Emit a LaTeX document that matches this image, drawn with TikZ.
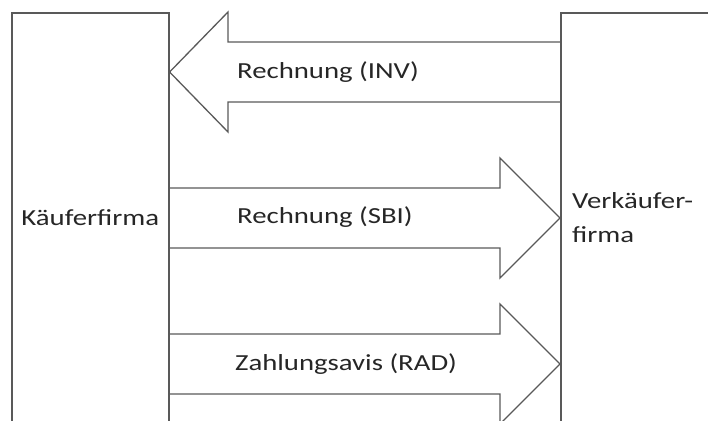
\documentclass[tikz,border=0pt]{standalone}
\usepackage{fontspec}
\setmainfont{Carlito}[FakeStretch=1.25]
\usetikzlibrary{calc, positioning}
\definecolor{linegray}{RGB}{89,89,89}
\definecolor{textgray}{RGB}{38,38,38}
\tikzset{
    firm/.style={rectangle, draw=linegray, line width=1.6pt, anchor=north west, inner sep=0pt, text=textgray, font=\fontsize{23}{28}\selectfont},
    fatarrow/.style={draw=linegray, line width=1.3pt, line join=miter},
    msg/.style={font=\fontsize{23}{28}\selectfont, text=textgray, inner sep=0pt}
}

\begin{document}
\begin{tikzpicture}[x=1pt, y=-1pt]
    \useasboundingbox (0,0) rectangle (708,420);
    \clip (0,0) rectangle (708,420);

    \node[firm, minimum width=157, minimum height=410] (kaeufer) at (11,12) {Käuferfirma};
    \node[firm, minimum width=170, minimum height=410] (verkaeufer) at (560,12) {};
    \node[msg, align=left, font=\fontsize{23}{34}\selectfont, right=12pt of verkaeufer.west] (verklabel) {Verkäufer-\\firma};

    % Rechnung (INV)
    \draw[fatarrow] (verkaeufer.west |- 0,42) -- (228,42) -- (228,12) -- (kaeufer.east |- 0,72)
        -- (228,132) -- (228,102) -- (verkaeufer.west |- 0,102);
    \node[msg, anchor=base west] (inv) at (237,78) {Rechnung (INV)};

    % Rechnung (SBI)
    \draw[fatarrow] (kaeufer.east |- 0,188) -- (500,188) -- (500,158) -- (verkaeufer.west |- 0,218)
        -- (500,278) -- (500,248) -- (kaeufer.east |- 0,248);
    \node[msg, anchor=base west] (sbi) at (237,223) {Rechnung (SBI)};

    % Zahlungsavis (RAD)
    \draw[fatarrow] (kaeufer.east |- 0,334) -- (500,334) -- (500,304) -- (verkaeufer.west |- 0,364)
        -- (500,424) -- (500,394) -- (kaeufer.east |- 0,394);
    \node[msg, anchor=base west] (rad) at (235,370) {Zahlungsavis (RAD)};
\end{tikzpicture}
\end{document}
